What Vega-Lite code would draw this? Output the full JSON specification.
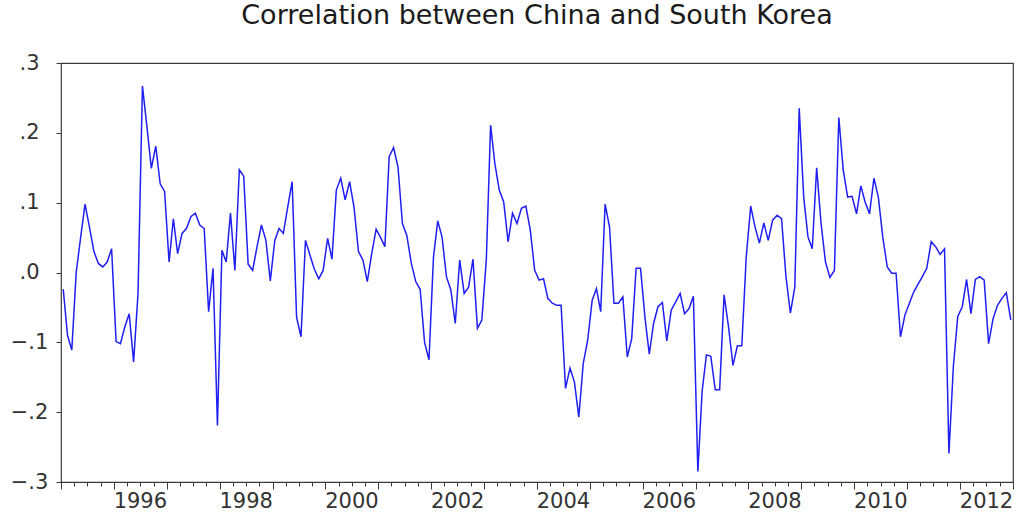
{
  "$schema": "https://vega.github.io/schema/vega-lite/v6.json",
  "width": 952,
  "height": 419,
  "autosize": "none",
  "padding": {"left": 61, "top": 63, "right": 7, "bottom": 35},
  "background": "white",
  "title": {
    "text": "Correlation between China and South Korea",
    "font": "DejaVu Sans",
    "fontSize": 27,
    "fontWeight": "normal",
    "color": "#1a1a1a",
    "anchor": "middle",
    "frame": "group",
    "baseline": "alphabetic",
    "offset": 1
  },
  "config": {
    "view": {"stroke": "#3a3a3a", "strokeWidth": 1.2},
    "axis": {"domain": false, "grid": false, "title": null, "tickColor": "#3a3a3a", "labelColor": "#333333", "labelFont": "DejaVu Sans", "labelFontSize": 21}
  },
  "data": {
    "values": [
      {"date": "1995-01", "corr": -0.024}, {"date": "1995-02", "corr": -0.09}, {"date": "1995-03", "corr": -0.111}, {"date": "1995-04", "corr": 0.0},
      {"date": "1995-05", "corr": 0.05}, {"date": "1995-06", "corr": 0.098}, {"date": "1995-07", "corr": 0.065}, {"date": "1995-08", "corr": 0.03},
      {"date": "1995-09", "corr": 0.013}, {"date": "1995-10", "corr": 0.008}, {"date": "1995-11", "corr": 0.015}, {"date": "1995-12", "corr": 0.034},
      {"date": "1996-01", "corr": -0.099}, {"date": "1996-02", "corr": -0.102}, {"date": "1996-03", "corr": -0.078}, {"date": "1996-04", "corr": -0.059},
      {"date": "1996-05", "corr": -0.128}, {"date": "1996-06", "corr": -0.03}, {"date": "1996-07", "corr": 0.267}, {"date": "1996-08", "corr": 0.209},
      {"date": "1996-09", "corr": 0.149}, {"date": "1996-10", "corr": 0.181}, {"date": "1996-11", "corr": 0.127}, {"date": "1996-12", "corr": 0.116},
      {"date": "1997-01", "corr": 0.015}, {"date": "1997-02", "corr": 0.077}, {"date": "1997-03", "corr": 0.027}, {"date": "1997-04", "corr": 0.056},
      {"date": "1997-05", "corr": 0.063}, {"date": "1997-06", "corr": 0.08}, {"date": "1997-07", "corr": 0.085}, {"date": "1997-08", "corr": 0.068},
      {"date": "1997-09", "corr": 0.063}, {"date": "1997-10", "corr": -0.056}, {"date": "1997-11", "corr": 0.006}, {"date": "1997-12", "corr": -0.219},
      {"date": "1998-01", "corr": 0.032}, {"date": "1998-02", "corr": 0.015}, {"date": "1998-03", "corr": 0.085}, {"date": "1998-04", "corr": 0.003},
      {"date": "1998-05", "corr": 0.147}, {"date": "1998-06", "corr": 0.138}, {"date": "1998-07", "corr": 0.012}, {"date": "1998-08", "corr": 0.003},
      {"date": "1998-09", "corr": 0.037}, {"date": "1998-10", "corr": 0.068}, {"date": "1998-11", "corr": 0.046}, {"date": "1998-12", "corr": -0.012},
      {"date": "1999-01", "corr": 0.046}, {"date": "1999-02", "corr": 0.063}, {"date": "1999-03", "corr": 0.056}, {"date": "1999-04", "corr": 0.094},
      {"date": "1999-05", "corr": 0.13}, {"date": "1999-06", "corr": -0.064}, {"date": "1999-07", "corr": -0.092}, {"date": "1999-08", "corr": 0.046},
      {"date": "1999-09", "corr": 0.025}, {"date": "1999-10", "corr": 0.005}, {"date": "1999-11", "corr": -0.009}, {"date": "1999-12", "corr": 0.003},
      {"date": "2000-01", "corr": 0.049}, {"date": "2000-02", "corr": 0.019}, {"date": "2000-03", "corr": 0.118}, {"date": "2000-04", "corr": 0.135},
      {"date": "2000-05", "corr": 0.104}, {"date": "2000-06", "corr": 0.13}, {"date": "2000-07", "corr": 0.094}, {"date": "2000-08", "corr": 0.03},
      {"date": "2000-09", "corr": 0.018}, {"date": "2000-10", "corr": -0.013}, {"date": "2000-11", "corr": 0.027}, {"date": "2000-12", "corr": 0.062},
      {"date": "2001-01", "corr": 0.05}, {"date": "2001-02", "corr": 0.037}, {"date": "2001-03", "corr": 0.166}, {"date": "2001-04", "corr": 0.179},
      {"date": "2001-05", "corr": 0.151}, {"date": "2001-06", "corr": 0.07}, {"date": "2001-07", "corr": 0.053}, {"date": "2001-08", "corr": 0.013},
      {"date": "2001-09", "corr": -0.013}, {"date": "2001-10", "corr": -0.024}, {"date": "2001-11", "corr": -0.1}, {"date": "2001-12", "corr": -0.125},
      {"date": "2002-01", "corr": 0.022}, {"date": "2002-02", "corr": 0.074}, {"date": "2002-03", "corr": 0.051}, {"date": "2002-04", "corr": -0.006},
      {"date": "2002-05", "corr": -0.025}, {"date": "2002-06", "corr": -0.073}, {"date": "2002-07", "corr": 0.018}, {"date": "2002-08", "corr": -0.03},
      {"date": "2002-09", "corr": -0.021}, {"date": "2002-10", "corr": 0.019}, {"date": "2002-11", "corr": -0.08}, {"date": "2002-12", "corr": -0.068},
      {"date": "2003-01", "corr": 0.018}, {"date": "2003-02", "corr": 0.211}, {"date": "2003-03", "corr": 0.156}, {"date": "2003-04", "corr": 0.118},
      {"date": "2003-05", "corr": 0.101}, {"date": "2003-06", "corr": 0.044}, {"date": "2003-07", "corr": 0.085}, {"date": "2003-08", "corr": 0.07},
      {"date": "2003-09", "corr": 0.092}, {"date": "2003-10", "corr": 0.095}, {"date": "2003-11", "corr": 0.061}, {"date": "2003-12", "corr": 0.003},
      {"date": "2004-01", "corr": -0.011}, {"date": "2004-02", "corr": -0.009}, {"date": "2004-03", "corr": -0.037}, {"date": "2004-04", "corr": -0.044},
      {"date": "2004-05", "corr": -0.047}, {"date": "2004-06", "corr": -0.047}, {"date": "2004-07", "corr": -0.166}, {"date": "2004-08", "corr": -0.137},
      {"date": "2004-09", "corr": -0.157}, {"date": "2004-10", "corr": -0.207}, {"date": "2004-11", "corr": -0.13}, {"date": "2004-12", "corr": -0.097},
      {"date": "2005-01", "corr": -0.04}, {"date": "2005-02", "corr": -0.023}, {"date": "2005-03", "corr": -0.056}, {"date": "2005-04", "corr": 0.098},
      {"date": "2005-05", "corr": 0.065}, {"date": "2005-06", "corr": -0.044}, {"date": "2005-07", "corr": -0.044}, {"date": "2005-08", "corr": -0.035},
      {"date": "2005-09", "corr": -0.121}, {"date": "2005-10", "corr": -0.095}, {"date": "2005-11", "corr": 0.006}, {"date": "2005-12", "corr": 0.006},
      {"date": "2006-01", "corr": -0.065}, {"date": "2006-02", "corr": -0.117}, {"date": "2006-03", "corr": -0.073}, {"date": "2006-04", "corr": -0.049},
      {"date": "2006-05", "corr": -0.043}, {"date": "2006-06", "corr": -0.098}, {"date": "2006-07", "corr": -0.054}, {"date": "2006-08", "corr": -0.042},
      {"date": "2006-09", "corr": -0.03}, {"date": "2006-10", "corr": -0.059}, {"date": "2006-11", "corr": -0.052}, {"date": "2006-12", "corr": -0.034},
      {"date": "2007-01", "corr": -0.285}, {"date": "2007-02", "corr": -0.17}, {"date": "2007-03", "corr": -0.118}, {"date": "2007-04", "corr": -0.12},
      {"date": "2007-05", "corr": -0.168}, {"date": "2007-06", "corr": -0.168}, {"date": "2007-07", "corr": -0.032}, {"date": "2007-08", "corr": -0.078},
      {"date": "2007-09", "corr": -0.133}, {"date": "2007-10", "corr": -0.105}, {"date": "2007-11", "corr": -0.105}, {"date": "2007-12", "corr": 0.022},
      {"date": "2008-01", "corr": 0.095}, {"date": "2008-02", "corr": 0.065}, {"date": "2008-03", "corr": 0.042}, {"date": "2008-04", "corr": 0.071},
      {"date": "2008-05", "corr": 0.046}, {"date": "2008-06", "corr": 0.075}, {"date": "2008-07", "corr": 0.082}, {"date": "2008-08", "corr": 0.077},
      {"date": "2008-09", "corr": -0.006}, {"date": "2008-10", "corr": -0.058}, {"date": "2008-11", "corr": -0.021}, {"date": "2008-12", "corr": 0.235},
      {"date": "2009-01", "corr": 0.108}, {"date": "2009-02", "corr": 0.051}, {"date": "2009-03", "corr": 0.034}, {"date": "2009-04", "corr": 0.15},
      {"date": "2009-05", "corr": 0.07}, {"date": "2009-06", "corr": 0.015}, {"date": "2009-07", "corr": -0.007}, {"date": "2009-08", "corr": 0.003},
      {"date": "2009-09", "corr": 0.222}, {"date": "2009-10", "corr": 0.147}, {"date": "2009-11", "corr": 0.108}, {"date": "2009-12", "corr": 0.109},
      {"date": "2010-01", "corr": 0.084}, {"date": "2010-02", "corr": 0.124}, {"date": "2010-03", "corr": 0.101}, {"date": "2010-04", "corr": 0.084},
      {"date": "2010-05", "corr": 0.135}, {"date": "2010-06", "corr": 0.108}, {"date": "2010-07", "corr": 0.051}, {"date": "2010-08", "corr": 0.008},
      {"date": "2010-09", "corr": -0.001}, {"date": "2010-10", "corr": -0.001}, {"date": "2010-11", "corr": -0.092}, {"date": "2010-12", "corr": -0.061},
      {"date": "2011-01", "corr": -0.044}, {"date": "2011-02", "corr": -0.028}, {"date": "2011-03", "corr": -0.017}, {"date": "2011-04", "corr": -0.006},
      {"date": "2011-05", "corr": 0.006}, {"date": "2011-06", "corr": 0.044}, {"date": "2011-07", "corr": 0.037}, {"date": "2011-08", "corr": 0.026},
      {"date": "2011-09", "corr": 0.034}, {"date": "2011-10", "corr": -0.259}, {"date": "2011-11", "corr": -0.135}, {"date": "2011-12", "corr": -0.063},
      {"date": "2012-01", "corr": -0.049}, {"date": "2012-02", "corr": -0.01}, {"date": "2012-03", "corr": -0.059}, {"date": "2012-04", "corr": -0.01},
      {"date": "2012-05", "corr": -0.006}, {"date": "2012-06", "corr": -0.011}, {"date": "2012-07", "corr": -0.102}, {"date": "2012-08", "corr": -0.066},
      {"date": "2012-09", "corr": -0.047}, {"date": "2012-10", "corr": -0.037}, {"date": "2012-11", "corr": -0.029}, {"date": "2012-12", "corr": -0.068}
    ]
  },
  "mark": {"type": "line", "color": "#1f1ff2", "strokeWidth": 1.5, "clip": true},
  "encoding": {
    "x": {
      "field": "date",
      "type": "temporal",
      "timeUnit": "utcyearmonth",
      "bandPosition": 0.5,
      "scale": {"type": "utc", "domain": [{"year": 1995, "month": 1, "date": 1, "utc": true}, {"year": 2013, "month": 1, "date": 1, "utc": true}], "nice": false},
      "axis": {
        "tickCount": {"interval": "month", "step": 3},
        "tickSize": {"condition": {"test": "utcmonth(datum.value) == 0", "value": 7}, "value": 4},
        "labelExpr": "utcmonth(datum.value) == 0 && utcyear(datum.value) % 2 == 0 ? utcFormat(datum.value, '%Y') : ''",
        "labelOverlap": false,
        "labelFlush": false,
        "labelAlign": "center",
        "labelOffset": 26,
        "labelPadding": 1
      }
    },
    "y": {
      "field": "corr",
      "type": "quantitative",
      "scale": {"domain": [-0.3, 0.3], "nice": false, "zero": false},
      "axis": {
        "values": [-0.3, -0.2, -0.1, 0, 0.1, 0.2, 0.3],
        "tickSize": 5,
        "labelAlign": "center",
        "labelBaseline": "middle",
        "labelPadding": 27,
        "labelExpr": "replace(replace(format(datum.value, '.1f'), '0.', '.'), '-', '−')"
      }
    }
  }
}
